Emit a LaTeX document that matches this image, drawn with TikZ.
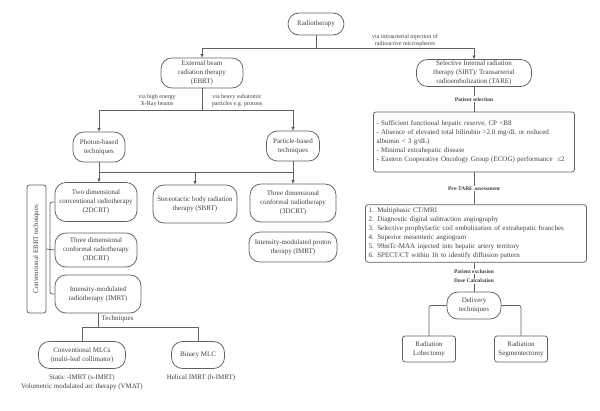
\documentclass[tikz,border=0pt]{standalone}
\usepackage{fontspec}
\setmainfont{Liberation Serif}
\usetikzlibrary{arrows.meta}
\definecolor{linec}{HTML}{606060}
\definecolor{txtc}{HTML}{404040}
\begin{document}
\begin{tikzpicture}[x=1pt,y=-1pt,
 box/.style={draw=linec, line width=0.75pt, rounded corners=11pt, align=center, text=txtc, font=\fontsize{7}{8.8}\selectfont, inner sep=0pt},
 sqbox/.style={box, rounded corners=2.5pt},
 lbl/.style={text=txtc, font=\fontsize{6}{7}\selectfont, align=center, inner sep=0.5pt},
 tlbl/.style={text=txtc, font=\fontsize{7}{9}\selectfont, align=center, inner sep=0.5pt},
 blbl/.style={text=txtc, font=\bfseries\fontsize{5.5}{6.5}\selectfont, fill=white, inner sep=1pt},
 conn/.style={draw=linec, line width=0.75pt},
 arr/.style={conn, -{Triangle[length=3.5pt,width=3pt]}},
 listbox/.style={draw=linec, line width=0.75pt, rounded corners=2.5pt, align=left, text=txtc, font=\fontsize{7}{9}\selectfont, inner sep=3pt},
]
\useasboundingbox (0,0) rectangle (600,411);

% top level
\node[box, minimum width=56, minimum height=22] (rt) at (316,24) {Radiotherapy};
\node[box, minimum width=82, minimum height=30] (ebrt) at (202,73) {External beam\\radiation therapy\\(EBRT)};
\node[box, minimum width=115, minimum height=27] (sirt) at (474,73) {Selective Internal radiation\\therapy (SIRT)/ Transarterial\\radioembolization (TARE)};
\coordinate (j1) at (316,48);
\draw[conn] (rt.south) -- (j1);
\draw[arr] (j1) -| (ebrt.north);
\draw[arr] (j1) -| (sirt.north);
\node[lbl] (l1) at (405,40.5) {via intraarterial injection of\\radioactive microspheres};

% EBRT branches
\node[box, minimum width=52, minimum height=30] (photon) at (99,147) {Photon-based\\techniques};
\node[box, minimum width=53, minimum height=30] (particle) at (293,146) {Particle-based\\techniques};
\coordinate (j2) at (202,110);
\draw[conn] (ebrt.south) -- (j2);
\draw[arr] (j2) -| (photon.north);
\draw[arr] (j2) -| (particle.north);
\node[lbl] (l2) at (157,101) {via high energy\\X-Ray beams};
\node[lbl] (l3) at (237,101) {via heavy subatomic\\particles e.g. protons};

% techniques row
\node[box, minimum width=82, minimum height=39] (tdc) at (96,202) {Two dimensional\\conventional radiotherapy\\(2DCRT)};
\node[box, minimum width=84, minimum height=38] (sbrt) at (195,204) {Stereotactic body radiation\\therapy (SBRT)};
\node[box, minimum width=86, minimum height=38] (tdr) at (293,203) {Three dimensional\\conformal radiotherapy\\(3DCRT)};
\node[box, minimum width=82, minimum height=34] (tdl) at (96,250) {Three dimensional\\conformal radiotherapy\\(3DCRT)};
\node[box, minimum width=86, minimum height=38] (imrt) at (98,294) {Intensity-modulated\\radiotherapy (IMRT)};
\node[box, minimum width=88, minimum height=30] (impt) at (293,247) {Intensity-modulated proton\\therapy (IMRT)};

\coordinate (b1) at (99,172);
\coordinate (b2) at (293,172);
\coordinate (b3) at (195,172);
\draw[conn] (photon.south) -- (b1) -- (b2);
\draw[conn] (particle.south) -- (b2);
\draw[arr] (b1) -- (b1 |- tdc.north);
\draw[arr] (b3) -- (b3 |- sbrt.north);
\draw[arr] (b2) -- (b2 |- tdr.north);

% conventional label + bracket
\node[sqbox, rotate=90, minimum width=128, minimum height=19] (conv) at (36.5,249) {Conventional EBRT techniques};
\coordinate (br) at (50,250);
\draw[conn, rounded corners=2pt] (tdc.west) -| (br) |- (imrt.west);
\draw[conn] (conv.south) -- (tdl.west);

% IMRT techniques
\coordinate (t1) at (98,327);
\node[box, minimum width=87, minimum height=27] (mlc) at (82,355) {Conventional MLCs\\(multi-leaf collimator)};
\node[box, minimum width=53, minimum height=27] (bmlc) at (198,355) {Binary MLC};
\draw[conn] (imrt.south) -- (t1);
\draw[conn] (t1) -| (mlc.north);
\draw[conn] (t1) -| (bmlc.north);
\node[tlbl, anchor=west] (tq) at (101,319) {Techniques};
\node[tlbl] (st) at (82,382.5) {Static -IMRT (s-IMRT)\\Volumetric modulated arc therapy (VMAT)};
\node[tlbl] (hel) at (201,378) {Helical IMRT (h-IMRT)};

% SIRT column
\node[listbox, text width=195, minimum height=60] (sel) at (474,142) {- Sufficient functional hepatic reserve, CP <B8\\
- Absence of elevated total bilirubin >2.0 mg/dL or reduced\\
albumin < 3 g/dL)\\
- Minimal extrahepatic disease\\
- Eastern Cooperative Oncology Group (ECOG) performance \ ≤2};
\node[listbox, text width=215, minimum height=57] (asm) at (476,233.5) {1. Multiphasic CT/MRI\\
2. Diagnostic digital subtraction angiography\\
3. Selective prophylactic coil embolization of extrahepatic branches\\
4. Superior mesenteric angiogram\\
5. 99mTc-MAA injected into hepatic artery territory\\
6. SPECT/CT within 1h to identify diffusion pattern};
\node[box, minimum width=54, minimum height=27] (dlv) at (474,305.5) {Delivery\\techniques};
\node[sqbox, minimum width=53, minimum height=26] (lob) at (429,349) {Radiation\\Lobectomy};
\node[sqbox, minimum width=53, minimum height=26] (seg) at (521,349) {Radiation\\Segmentectomy};

\draw[conn] (sirt.south) -- (sel.north) node[blbl, pos=0.5] {Patient selection};
\draw[conn] (sel.south) -- (sel.south |- asm.north) node[blbl, pos=0.5] {Pre-TARE assessment};
\draw[conn] (dlv.north |- asm.south) -- (dlv.north);
\node[blbl] (pe) at (474,271.5) {Patient exclusion};
\node[blbl] (dc) at (474,281) {Dose Calculation};
\draw[conn, rounded corners=2pt] (dlv.west) -| (lob.north);
\draw[conn, rounded corners=2pt] (dlv.east) -| (seg.north);
\end{tikzpicture}
\end{document}
